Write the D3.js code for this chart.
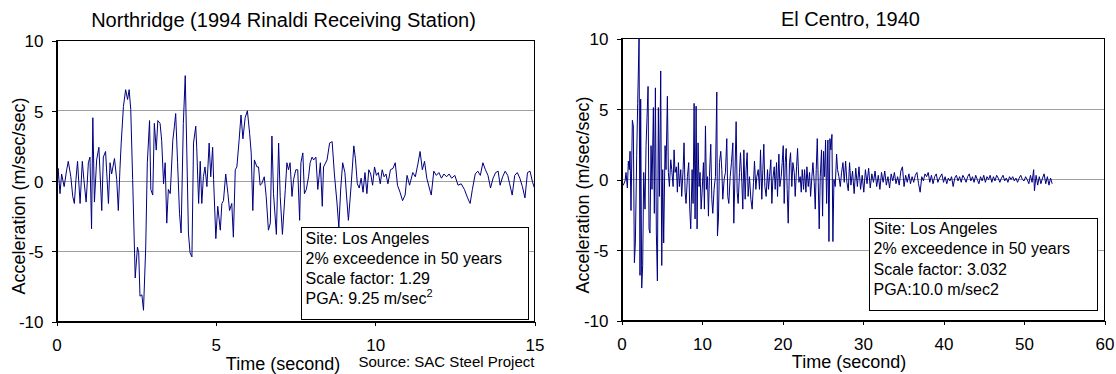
<!DOCTYPE html>
<html>
<head>
<meta charset="utf-8">
<script src="https://cdn.jsdelivr.net/npm/d3@7"></script>
<style>
  body { margin: 0; background: #fff; }
  svg { display: block; font-family: "Liberation Sans", Arial, sans-serif; }
  .axis path, .axis line { stroke: #000; shape-rendering: crispEdges; }
  .axis text { font-size: 17px; fill: #000; font-family: "Liberation Sans", Arial, sans-serif; }
  .grid line { stroke: #a0a0a0; shape-rendering: crispEdges; }
</style>
</head>
<body>
<svg id="chart" width="1116" height="374"></svg>
<script>
// [time (s), acceleration (m/sec/sec)]
var northRecord = [
  [0.00,-1.5],[0.05,0.9],[0.11,-0.9],[0.16,0.5],[0.24,-0.4],[0.32,0.8],[0.37,1.4],[0.45,0.3],[0.51,-1.1],[0.56,-1.6],
  [0.61,0.1],[0.66,1.4],[0.74,-1.6],[0.81,1.4],[0.86,0.1],[0.93,-1.5],[1.00,1.3],[1.05,1.7],[1.10,-3.4],[1.14,4.5],
  [1.19,-1.5],[1.26,1.5],[1.33,2.4],[1.42,-2.1],[1.47,1.7],[1.54,2.1],[1.63,-1.6],[1.68,1.3],[1.73,0.5],[1.82,1.6],
  [1.89,0.1],[1.94,-2.1],[1.99,0.8],[2.03,2.7],[2.10,5.3],[2.17,6.5],[2.23,5.8],[2.28,6.5],[2.33,5.1],[2.39,0.1],
  [2.47,-6.9],[2.54,-4.7],[2.58,-5.1],[2.62,-8.2],[2.68,-8.1],[2.73,-9.2],[2.80,-4.7],[2.85,1.3],[2.92,4.3],[2.96,-0.6],
  [3.02,-1.0],[3.07,4.1],[3.13,2.2],[3.18,4.3],[3.25,4.1],[3.30,2.9],[3.36,-0.2],[3.41,1.3],[3.46,-3.0],[3.51,-0.6],
  [3.57,-0.9],[3.65,2.9],[3.70,3.9],[3.74,4.8],[3.80,1.3],[3.86,-2.3],[3.91,-3.7],[3.98,4.1],[4.04,7.5],[4.09,2.0],
  [4.14,-3.7],[4.19,-5.1],[4.25,-5.4],[4.30,2.7],[4.37,3.9],[4.40,2.4],[4.46,-1.6],[4.51,1.4],[4.56,-1.6],[4.61,0.3],
  [4.66,1.0],[4.72,-0.4],[4.79,2.7],[4.84,0.3],[4.90,2.4],[4.93,0.1],[5.00,-4.1],[5.06,-1.8],[5.14,-3.5],[5.19,-1.6],
  [5.24,-1.4],[5.31,0.5],[5.38,-0.9],[5.43,-2.1],[5.50,-1.6],[5.55,-4.0],[5.61,0.8],[5.66,1.0],[5.73,2.9],[5.79,4.7],
  [5.85,3.0],[5.92,4.5],[5.99,5.0],[6.06,3.4],[6.11,2.0],[6.16,-2.1],[6.21,1.5],[6.29,1.0],[6.34,1.0],[6.39,-0.3],
  [6.44,-0.2],[6.52,0.3],[6.58,-1.1],[6.65,-3.5],[6.71,-3.0],[6.76,3.2],[6.81,-0.9],[6.90,-3.8],[6.97,2.7],[7.02,-1.1],
  [7.09,-3.8],[7.18,-0.6],[7.23,1.3],[7.28,0.8],[7.33,1.3],[7.39,-1.1],[7.44,0.1],[7.51,0.8],[7.57,0.8],[7.63,-2.8],
  [7.67,1.3],[7.73,2.0],[7.78,-0.9],[7.84,-0.6],[7.91,0.3],[7.96,1.3],[8.02,1.7],[8.07,1.5],[8.14,1.7],[8.20,-0.6],
  [8.28,1.3],[8.34,-1.8],[8.38,1.0],[8.49,1.5],[8.57,2.7],[8.65,2.8],[8.72,0.5],[8.80,-1.5],[8.86,-3.3],[8.92,-0.5],
  [8.98,1.3],[9.05,0.6],[9.10,-1.0],[9.16,-2.8],[9.24,-0.5],[9.33,2.5],[9.38,1.6],[9.44,-0.2],[9.50,-0.5],[9.56,0.2],
  [9.62,-0.8],[9.68,0.6],[9.74,-0.9],[9.80,0.8],[9.86,0.5],[9.92,-0.3],[9.98,1.0],[10.04,0.4],[10.10,0.6],[10.16,-0.2],
  [10.22,0.8],[10.28,0.3],[10.34,0.5],[10.40,-0.2],[10.48,0.8],[10.56,0.9],[10.63,1.3],[10.70,-0.3],[10.78,-0.8],[10.86,-1.4],
  [10.94,-1.0],[11.00,0.4],[11.08,-0.3],[11.18,0.6],[11.26,0.3],[11.34,1.2],[11.41,2.1],[11.48,0.8],[11.55,1.4],[11.62,0.2],
  [11.70,-0.5],[11.76,-1.0],[11.84,0.7],[11.92,0.4],[12.00,0.6],[12.08,0.2],[12.16,0.5],[12.24,0.3],[12.32,0.5],[12.40,0.2],
  [12.50,0.4],[12.60,-0.3],[12.70,-0.2],[12.80,-0.6],[12.90,-1.2],[12.98,-1.6],[13.05,-0.6],[13.14,0.5],[13.22,0.7],[13.30,0.4],
  [13.38,1.3],[13.46,0.8],[13.54,0.4],[13.62,-0.5],[13.70,0.2],[13.78,0.6],[13.86,0.7],[13.92,-0.3],[14.00,0.3],[14.08,0.7],
  [14.16,0.4],[14.22,-0.2],[14.30,-1.0],[14.38,0.4],[14.46,0.6],[14.54,0.2],[14.62,-0.4],[14.70,-1.2],[14.78,0.6],[14.86,0.7],
  [14.94,-0.1],[15.00,-0.5]
];

var centroRecord = [
  [0.00,-0.2],[0.23,-0.4],[0.44,-0.1],[0.56,0.5],[0.73,-0.6],[0.85,1.3],[0.97,0.7],[1.06,2.0],[1.18,-2.2],[1.35,4.2],
  [1.47,3.8],[1.60,-5.9],[1.72,-4.5],[1.89,1.7],[2.01,5.4],[2.18,10.0],[2.30,-6.8],[2.38,5.7],[2.51,-7.7],[2.63,-6.1],
  [2.76,0.5],[2.92,-2.1],[3.05,2.4],[3.17,4.4],[3.30,6.6],[3.42,-3.5],[3.54,-3.8],[3.67,2.4],[3.79,-0.7],[3.96,5.1],
  [4.08,-2.4],[4.21,6.5],[4.33,-3.8],[4.46,-7.2],[4.58,5.1],[4.71,-1.2],[4.87,7.7],[5.00,-6.1],[5.12,0.7],[5.24,-4.5],
  [5.41,2.4],[5.53,0.7],[5.70,5.9],[5.82,0.5],[5.95,-0.5],[6.12,1.4],[6.24,0.7],[6.41,-0.5],[6.53,2.1],[6.65,0.5],
  [6.82,0.9],[6.94,-0.9],[7.07,1.2],[7.19,-0.5],[7.36,0.7],[7.48,-1.2],[7.65,0.7],[7.77,2.6],[7.90,-0.9],[8.02,-1.7],
  [8.19,0.2],[8.35,1.2],[8.48,-2.1],[8.60,-3.5],[8.77,0.7],[8.89,-1.7],[9.02,5.4],[9.14,-2.8],[9.27,5.2],[9.39,-3.5],
  [9.51,2.6],[9.64,-0.5],[9.76,0.5],[9.89,-2.1],[10.01,-0.9],[10.18,1.2],[10.30,-2.1],[10.43,3.8],[10.55,-0.7],[10.68,0.2],
  [10.80,-2.6],[10.92,0.2],[11.09,2.5],[11.22,-1.4],[11.34,-2.4],[11.50,-0.7],[11.67,0.2],[11.84,6.2],[11.92,-4.0],[12.04,-2.8],
  [12.17,1.2],[12.33,2.0],[12.46,0.7],[12.58,-1.4],[12.75,0.0],[12.91,0.5],[13.08,2.9],[13.20,-1.2],[13.33,-1.7],[13.50,0.2],
  [13.66,1.2],[13.83,2.6],[13.95,-3.1],[14.08,0.0],[14.24,4.1],[14.37,-0.9],[14.49,-1.7],[14.66,0.5],[14.78,1.9],[14.95,-0.2],
  [15.07,-2.1],[15.20,2.1],[15.36,-1.4],[15.48,0.7],[15.61,1.9],[15.73,-1.2],[15.90,0.2],[16.07,-1.4],[16.23,-2.1],[16.40,-0.2],
  [16.52,1.3],[16.69,-0.7],[16.81,0.2],[16.98,0.7],[17.14,-0.7],[17.27,2.1],[17.43,-1.4],[17.56,0.7],[17.68,2.5],[17.81,-0.5],
  [17.97,-1.2],[18.14,0.7],[18.26,-0.7],[18.39,0.2],[18.55,1.4],[18.68,-1.7],[18.80,0.0],[18.97,0.9],[19.09,-0.7],[19.26,1.2],
  [19.38,-1.2],[19.55,1.8],[19.67,-0.5],[19.84,0.2],[19.96,1.2],[20.09,2.4],[20.21,-1.7],[20.34,1.2],[20.46,2.2],[20.58,-0.7],
  [20.71,-3.1],[20.87,1.2],[21.00,1.9],[21.16,-0.5],[21.29,1.2],[21.46,0.5],[21.58,-1.2],[21.75,0.9],[21.87,2.2],[22.04,-0.2],
  [22.20,0.2],[22.33,-0.9],[22.45,0.7],[22.62,-0.7],[22.74,0.7],[22.91,-0.9],[23.03,0.9],[23.20,-0.5],[23.36,0.5],[23.49,-1.2],
  [23.65,0.2],[23.78,1.2],[23.94,-0.2],[24.07,-2.1],[24.19,0.7],[24.32,2.9],[24.44,-0.2],[24.56,-3.5],[24.69,0.2],[24.85,2.1],
  [24.98,-2.6],[25.10,2.0],[25.23,0.2],[25.35,2.8],[25.48,-1.7],[25.64,2.8],[25.77,-4.4],[25.89,2.9],[26.01,2.1],[26.14,3.2],
  [26.26,-4.4],[26.39,0.0],[26.55,-0.5],[26.72,1.8],[26.84,0.7],[27.01,0.2],[27.18,-0.5],[27.34,0.5],[27.51,1.2],[27.67,-0.2],
  [27.84,1.3],[28.00,-0.2],[28.17,-0.8],[28.33,1.2],[28.5,-0.4],[28.7,0.6],[28.9,-1.0],[29.1,0.8],[29.3,-0.5],[29.5,0.9],
  [29.7,-0.7],[29.9,0.3],[30.1,-0.9],[30.3,0.7],[30.5,-0.3],[30.7,0.8],[30.9,-0.6],[31.1,0.4],[31.3,-0.2],[31.5,0.6],
  [31.7,-0.5],[31.9,0.3],[32.1,-0.7],[32.3,0.5],[32.5,-0.2],[32.7,0.6],[32.9,-0.4],[33.1,0.2],[33.3,-0.6],[33.5,0.4],
  [33.7,-0.1],[33.9,0.5],[34.1,-0.3],[34.3,0.2],[34.5,-0.4],[34.7,0.6],[34.9,0.9],[35.1,-0.5],[35.3,0.3],[35.5,-0.2],
  [35.7,0.4],[35.9,-0.3],[36.1,0.2],[36.3,-0.2],[36.5,0.3],[36.7,0.5],[36.9,-0.3],[37.1,-0.9],[37.3,0.2],[37.5,-0.1],
  [37.7,0.4],[37.9,0.2],[38.1,0.5],[38.3,-0.2],[38.5,0.3],[38.7,-0.3],[38.9,0.2],[39.1,0.4],[39.3,-0.2],[39.5,0.1],
  [39.8,0.4],[40.0,-0.2],[40.2,0.2],[40.4,-0.3],[40.6,0.1],[40.8,-0.1],[41.0,0.2],[41.2,-0.5],[41.4,0.1],[41.6,0.3],
  [41.8,-0.1],[42.0,0.2],[42.2,-0.2],[42.4,0.3],[42.6,0.1],[42.8,-0.2],[43.0,0.2],[43.2,0.4],[43.4,-0.1],[43.6,0.2],
  [43.8,-0.2],[44.0,0.3],[44.2,0.0],[44.4,-0.3],[44.6,0.2],[44.8,-0.1],[45.0,0.3],[45.2,-0.2],[45.4,0.2],[45.6,0.0],
  [45.8,0.3],[46.0,-0.2],[46.2,0.2],[46.4,-0.1],[46.6,0.3],[46.8,0.1],[47.0,-0.2],[47.2,0.1],[47.4,0.3],[47.6,-0.1],
  [47.8,0.1],[48.0,-0.2],[48.2,0.2],[48.4,0.0],[48.6,0.2],[48.8,-0.1],[49.0,0.1],[49.2,-0.2],[49.4,0.1],[49.6,0.3],
  [49.8,0.0],[50.0,-0.1],[50.2,0.2],[50.4,0.0],[50.6,-0.3],[50.8,0.3],[51.0,-0.2],[51.2,0.7],[51.3,-0.8],[51.5,0.3],
  [51.7,-0.4],[51.9,0.2],[52.1,-0.3],[52.3,0.1],[52.5,0.4],[52.7,-0.3],[52.9,0.2],[53.1,-0.4],[53.3,0.1],[53.5,-0.3]
];

var yTicks = [-10, -5, 0, 5, 10];
var gridValues = [-5, 0, 5];
var northXTicks = [0, 5, 10, 15];
var centroXTicks = [0, 10, 20, 30, 40, 50, 60];

var northNotes = ["Site: Los Angeles", "2% exceedence in 50 years", "Scale factor: 1.29", "PGA: 9.25 m/sec"];
var centroNotes = ["Site: Los Angeles", "2% exceedence in 50 years", "Scale factor: 3.032", "PGA:10.0 m/sec2"];

var svg = d3.select("#chart");

function drawPanel(p) {
  var x = d3.scaleLinear().domain(p.xDomain).range([p.left, p.right]);
  var y = d3.scaleLinear().domain([-10, 10]).range([p.bottom, p.top]);
  var g = svg.append("g");

  g.append("g").attr("class", "grid")
    .selectAll("line").data(gridValues).enter().append("line")
    .attr("x1", p.left).attr("x2", p.right)
    .attr("y1", function(d) { return y(d); })
    .attr("y2", function(d) { return y(d); });

  g.append("rect")
    .attr("x", p.left).attr("y", p.top)
    .attr("width", p.right - p.left).attr("height", p.bottom - p.top)
    .attr("fill", "none").attr("stroke", "#000")
    .attr("shape-rendering", "crispEdges");

  var line = d3.line()
    .x(function(d) { return x(d[0]); })
    .y(function(d) { return y(d[1]); });

  g.append("path").datum(p.data)
    .attr("d", line)
    .attr("fill", "none")
    .attr("stroke", "#000080")
    .attr("stroke-width", 1)
    .attr("stroke-linejoin", "round");

  // note box
  g.append("rect")
    .attr("x", p.box[0]).attr("y", p.box[1])
    .attr("width", p.box[2]).attr("height", p.box[3])
    .attr("fill", "#fff").attr("stroke", "#000")
    .attr("shape-rendering", "crispEdges");

  var notes = g.append("g").attr("font-size", "16px");
  p.notes.forEach(function(s, i) {
    var t = notes.append("text")
      .attr("x", p.box[0] + 4)
      .attr("y", p.noteY + i * 20.3)
      .text(s);
    if (p.superscript && i === p.notes.length - 1) {
      t.append("tspan").attr("font-size", "11px").attr("dy", "-7").text("2");
    }
  });

  g.append("g").attr("class", "axis")
    .attr("transform", "translate(0," + p.bottom + ")")
    .call(d3.axisBottom(x).tickValues(p.xTicks).tickSize(4).tickSizeOuter(0)
      .tickPadding(p.xPad).tickFormat(function(d) { return String(d); }));

  var ya = g.append("g").attr("class", "axis")
    .attr("transform", "translate(" + p.left + ",0)")
    .call(d3.axisLeft(y).tickValues(yTicks).tickSize(5).tickSizeOuter(0)
      .tickPadding(8).tickFormat(function(d) { return String(d); }));
  ya.selectAll("text").attr("dy", "0.38em");
  ya.select(".domain").attr("stroke", "#222").attr("stroke-width", 1.5);

  g.append("text")
    .attr("x", p.titleX).attr("y", p.titleY)
    .attr("text-anchor", "middle").attr("font-size", "20px")
    .text(p.title);

  g.append("text")
    .attr("transform", "translate(" + p.yLabelX + "," + p.yLabelY + ") rotate(-90)")
    .attr("text-anchor", "middle").attr("font-size", "18px")
    .text("Acceleration (m/sec/sec)");

  g.append("text")
    .attr("x", p.xLabelX).attr("y", p.xLabelY)
    .attr("text-anchor", "middle").attr("font-size", "18px")
    .text("Time (second)");
}

drawPanel({
  data: northRecord, xDomain: [0, 15], xTicks: northXTicks,
  left: 56.5, right: 534.5, top: 40.5, bottom: 321.5, xPad: 13,
  box: [301.5, 227.5, 227, 92], notes: northNotes, noteY: 243.5, superscript: true,
  title: "Northridge (1994 Rinaldi Receiving Station)", titleX: 283.5, titleY: 27,
  yLabelX: 25, yLabelY: 196, xLabelX: 283, xLabelY: 369.5
});

drawPanel({
  data: centroRecord, xDomain: [0, 60], xTicks: centroXTicks,
  left: 621.5, right: 1104.5, top: 38.5, bottom: 320.5, xPad: 13,
  box: [869.5, 218.5, 228, 92], notes: centroNotes, noteY: 234, superscript: false,
  title: "El Centro, 1940", titleX: 850.5, titleY: 25.5,
  yLabelX: 588.5, yLabelY: 195, xLabelX: 849, xLabelY: 367.5
});

svg.append("text")
  .attr("x", 358.5).attr("y", 366.5)
  .attr("font-size", "15px")
  .text("Source: SAC Steel Project");
</script>
</body>
</html>
